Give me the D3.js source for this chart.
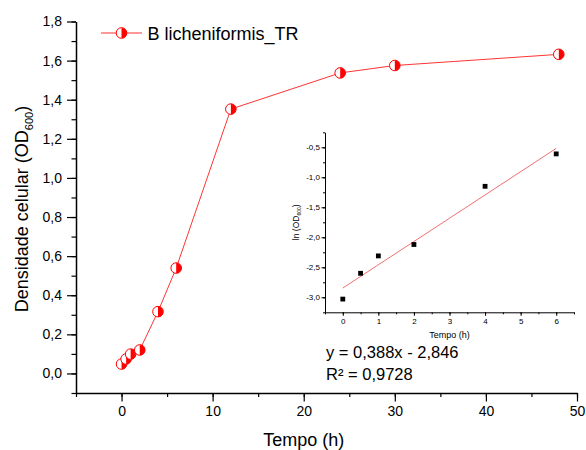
<!DOCTYPE html>
<html>
<head>
<meta charset="utf-8">
<script src="https://cdn.jsdelivr.net/npm/d3@7"></script>
<style>
  html, body { margin: 0; padding: 0; background: #fff; }
  svg { display: block; font-family: "Liberation Sans", Arial, sans-serif; }
</style>
</head>
<body>
<svg id="chart" width="586" height="450"></svg>
<script>
// Growth curve: sampling times (h) and optical density at 600 nm
const times = [0, 0.5, 1, 2, 4, 6, 12, 24, 30, 48];
const density = [0.048, 0.074, 0.099, 0.12, 0.316, 0.539, 1.352, 1.537, 1.575, 1.632];
const seriesName = "B licheniformis_TR";

// Exponential phase: ln(OD600) over the first hours
const logTimes = [0, 0.5, 1, 2, 4, 6];
const logDensity = [-3.03, -2.6, -2.31, -2.12, -1.15, -0.61];
const fitSlope = 0.388;
const fitIntercept = -2.846;
const fitR2 = 0.9728;

// Tick values
const mainXTicks = [0, 10, 20, 30, 40, 50];
const mainYTicks = [0, 0.2, 0.4, 0.6, 0.8, 1.0, 1.2, 1.4, 1.6, 1.8];
const insetXTicks = [0, 1, 2, 3, 4, 5, 6];
const insetYTicks = [-3.0, -2.5, -2.0, -1.5, -1.0, -0.5];

const comma = (d, digits) => d.toFixed(digits).replace(".", ",");

const svg = d3.select("#chart");
const red = "#ff0000";
const fontFam = "Liberation Sans, Arial, sans-serif";

// ---------- main chart ----------
const x = d3.scaleLinear().domain([-5, 50]).range([76, 577]);
const y = d3.scaleLinear().domain([-0.1, 1.8]).range([393, 21.5]);

// minor ticks
svg.append("g").attr("transform", `translate(0,${y(-0.1)})`)
  .call(d3.axisBottom(x).tickValues(d3.range(-5, 51, 5)).tickSize(4).tickFormat(""))
  .call(g => g.selectAll("line").attr("stroke", "#000").attr("stroke-width", 1.2))
  .call(g => g.select(".domain").remove());
svg.append("g").attr("transform", `translate(${x(-5)},0)`)
  .call(d3.axisLeft(y).tickValues(d3.range(-1, 19).map(d => d / 10)).tickSize(4.5).tickFormat(""))
  .call(g => g.selectAll("line").attr("stroke", "#000").attr("stroke-width", 1.2))
  .call(g => g.select(".domain").remove());

// major ticks + labels
svg.append("g").attr("transform", `translate(0,${y(-0.1)})`)
  .call(d3.axisBottom(x).tickValues(mainXTicks).tickSize(8.5).tickSizeOuter(0).tickPadding(5).tickFormat(d => d))
  .call(g => g.select(".domain").attr("stroke", "#000").attr("stroke-width", 1.5))
  .call(g => g.selectAll("line").attr("stroke", "#000").attr("stroke-width", 1.2))
  .call(g => g.selectAll("text").attr("font-size", 14).attr("fill", "#000").attr("font-family", fontFam));
svg.append("g").attr("transform", `translate(${x(-5)},0)`)
  .call(d3.axisLeft(y).tickValues(mainYTicks).tickSize(9).tickSizeOuter(0).tickPadding(5).tickFormat(d => comma(d, 1)))
  .call(g => g.select(".domain").attr("stroke", "#000").attr("stroke-width", 1.5))
  .call(g => g.selectAll("line").attr("stroke", "#000").attr("stroke-width", 1.2))
  .call(g => g.selectAll("text").attr("font-size", 14).attr("fill", "#000").attr("font-family", fontFam));

// axis titles
svg.append("text").attr("x", x(20)).attr("y", 446).attr("text-anchor", "middle")
  .attr("font-size", 18).text("Tempo (h)");
const yt = svg.append("text").attr("transform", `translate(28,209) rotate(-90)`)
  .attr("text-anchor", "middle").attr("font-size", 18);
yt.append("tspan").text("Densidade celular (OD");
yt.append("tspan").attr("font-size", 11).attr("dy", 5).text("600");
yt.append("tspan").attr("dy", -5).text(")");

// half-filled circle marker
function marker(g, cx, cy, r) {
  g.append("circle").attr("cx", cx).attr("cy", cy).attr("r", r)
    .attr("fill", "#fff").attr("stroke", red).attr("stroke-width", 1);
  g.append("path")
    .attr("d", `M${cx},${cy - r} A${r},${r} 0 0 1 ${cx},${cy + r} Z`)
    .attr("fill", red);
}

const pts = times.map((t, i) => [t, density[i]]);
svg.append("path").datum(pts)
  .attr("fill", "none").attr("stroke", red).attr("stroke-width", 1).attr("stroke-opacity", 0.8)
  .attr("d", d3.line().x(d => x(d[0])).y(d => y(d[1])));
const mk = svg.append("g");
pts.forEach(d => marker(mk, x(d[0]), y(d[1]), 5.3));

// legend
const lg = svg.append("g");
lg.append("line").attr("x1", 101).attr("x2", 142).attr("y1", 33).attr("y2", 33)
  .attr("stroke", red).attr("stroke-width", 1).attr("stroke-opacity", 0.8);
marker(lg, 121.5, 33, 5.3);
lg.append("text").attr("x", 147.5).attr("y", 39.5).attr("font-size", 18).text(seriesName);

// ---------- inset: ln(OD600) vs time ----------
const ix = d3.scaleLinear().domain([-0.5, 6.5]).range([325, 574]);
const iy = d3.scaleLinear().domain([-3.25, -0.25]).range([312.3, 132.3]);
const inset = svg.append("g");

inset.append("g").attr("transform", `translate(0,${iy(-3.25)})`)
  .call(d3.axisBottom(ix).tickValues(d3.range(-0.5, 6.6, 0.5)).tickSize(2).tickFormat(""))
  .call(g => g.select(".domain").remove())
  .call(g => g.selectAll("line").attr("stroke", "#000"));
inset.append("g").attr("transform", `translate(${ix(-0.5)},0)`)
  .call(d3.axisLeft(iy).tickValues(d3.range(-13, 0).map(d => d / 4)).tickSize(2).tickFormat(""))
  .call(g => g.select(".domain").remove())
  .call(g => g.selectAll("line").attr("stroke", "#000"));

inset.append("g").attr("transform", `translate(0,${iy(-3.25)})`)
  .call(d3.axisBottom(ix).tickValues(insetXTicks).tickSize(3.5).tickSizeOuter(0).tickPadding(3).tickFormat(d => d))
  .call(g => g.select(".domain").attr("stroke", "#000"))
  .call(g => g.selectAll("line").attr("stroke", "#000"))
  .call(g => g.selectAll("text").attr("font-size", 8).attr("fill", "#000").attr("font-family", fontFam));
inset.append("g").attr("transform", `translate(${ix(-0.5)},0)`)
  .call(d3.axisLeft(iy).tickValues(insetYTicks).tickSize(3.5).tickSizeOuter(0).tickPadding(1.5).tickFormat(d => comma(d, 1)))
  .call(g => g.select(".domain").attr("stroke", "#000"))
  .call(g => g.selectAll("line").attr("stroke", "#000"))
  .call(g => g.selectAll("text").attr("font-size", 8).attr("fill", "#000").attr("font-family", fontFam));

inset.append("text").attr("x", ix(3)).attr("y", 338).attr("text-anchor", "middle")
  .attr("font-size", 9).text("Tempo (h)");
const iyt = inset.append("text").attr("transform", `translate(299,${iy(-1.75)}) rotate(-90)`)
  .attr("text-anchor", "middle").attr("font-size", 8.5);
iyt.append("tspan").text("ln (OD");
iyt.append("tspan").attr("font-size", 5).attr("dy", 2).text("600");
iyt.append("tspan").attr("dy", -2).text(")");

// regression line from the fitted coefficients
inset.append("line")
  .attr("x1", ix(0)).attr("y1", iy(fitIntercept))
  .attr("x2", ix(6)).attr("y2", iy(fitSlope * 6 + fitIntercept))
  .attr("stroke", "#f07070").attr("stroke-width", 1);

inset.selectAll("rect.pt").data(logTimes.map((t, i) => [t, logDensity[i]]))
  .join("rect").attr("class", "pt")
  .attr("x", d => ix(d[0]) - 2.4).attr("y", d => iy(d[1]) - 2.4)
  .attr("width", 4.8).attr("height", 4.8).attr("fill", "#000");

// equation
svg.append("text").attr("x", 326).attr("y", 358).attr("font-size", 16.5)
  .text(`y = ${comma(fitSlope, 3)}x - ${comma(-fitIntercept, 3)}`);
svg.append("text").attr("x", 326).attr("y", 380).attr("font-size", 16.5)
  .text(`R² = ${comma(fitR2, 4)}`);
</script>
</body>
</html>
